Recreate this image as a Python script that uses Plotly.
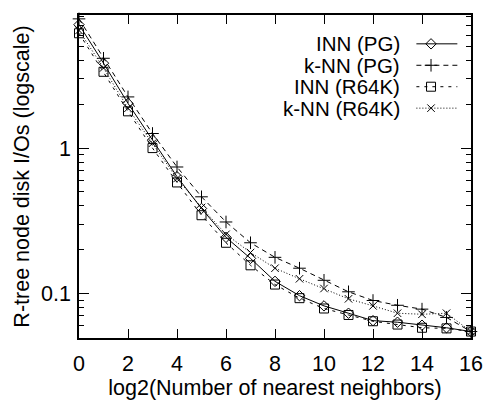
import plotly.graph_objects as go
import math

x_vals = list(range(0, 17))

inn_pg = [7.07, 3.84, 2.03, 1.135, 0.636, 0.384, 0.243, 0.174, 0.121, 0.0964, 0.082, 0.073, 0.0649, 0.0633, 0.0604, 0.058, 0.0546]
knn_pg = [7.75, 4.15, 2.25, 1.26, 0.741, 0.462, 0.31, 0.223, 0.177, 0.149, 0.123, 0.1025, 0.0893, 0.0828, 0.0779, 0.0683, 0.0546]
inn_r64k = [6.17, 3.35, 1.79, 1.0, 0.58, 0.345, 0.223, 0.156, 0.115, 0.0927, 0.0787, 0.071, 0.0643, 0.061, 0.058, 0.0574, 0.0546]
knn_r64k = [6.45, 3.56, 1.88, 1.08, 0.617, 0.39, 0.255, 0.191, 0.149, 0.126, 0.108, 0.0917, 0.082, 0.073, 0.0718, 0.073, 0.0546]

names = ["INN (PG)", "k-NN (PG)", "INN (R64K)", "k-NN (R64K)"]
series = [inn_pg, knn_pg, inn_r64k, knn_r64k]
symbols = ["diamond-open", "cross-thin-open", "square-open", "x-thin-open"]
msizes = [8, 9, 9, 7.5]
dashes = ["solid", "5px,4px", "3px,5px", "1px,2px"]

x_ticks = list(range(0, 17, 2))
y_major = [0.1, 1]
y_major_text = ["0.1", "1"]
y_minor = [0.05, 0.06, 0.07, 0.08, 0.09, 0.2, 0.3, 0.4, 0.5, 0.6, 0.7, 0.8, 0.9, 2, 3, 4, 5, 6, 7, 8]

FONT = "Liberation Sans, Arial, sans-serif"
W, H = 495, 407
ML, MR, MT, MB = 79, 14, 15, 56

fig = go.Figure()
for name, ys, sym, ms, dash in zip(names, series, symbols, msizes, dashes):
    fig.add_trace(go.Scatter(
        x=x_vals, y=ys, mode="lines+markers", name=name,
        line=dict(color="black", width=1, dash=dash),
        marker=dict(symbol=sym, size=ms, color="black", line=dict(color="black", width=1)),
        cliponaxis=False, showlegend=False))

# custom legend (text right-aligned, sample on the right), in plot-area fractions
pw = W - ML - MR
ph = H - MT - MB
row_px = [45, 67.3, 89.6, 111.9]
text_right = (409 - ML) / pw
line_x0 = (425 - ML) / pw
line_x1 = (467 - ML) / pw
mark_x = (440 - ML) / pw
annotations = []
for i, (name, sym, ms, dash) in enumerate(zip(names, symbols, msizes, dashes)):
    yf = (H - MB - row_px[i]) / ph
    fig.add_trace(go.Scatter(x=[line_x0, line_x1], y=[yf, yf], mode="lines",
                             line=dict(color="black", width=1, dash=dash),
                             xaxis="x2", yaxis="y2", showlegend=False, hoverinfo="skip"))
    fig.add_trace(go.Scatter(x=[mark_x], y=[yf], mode="markers",
                             marker=dict(symbol=sym, size=ms, color="black", line=dict(color="black", width=1)),
                             xaxis="x2", yaxis="y2", showlegend=False, hoverinfo="skip"))
    annotations.append(dict(x=text_right, y=yf, xref="x2", yref="y2", text=name,
                            showarrow=False, xanchor="right", yanchor="middle", borderpad=0,
                            font=dict(family=FONT, size=20.5, color="black")))

fig.update_layout(
    width=W, height=H,
    margin=dict(l=ML, r=MR, t=MT, b=MB),
    paper_bgcolor="white", plot_bgcolor="white",
    font=dict(family=FONT, size=21.5, color="black"),
    annotations=annotations,
    xaxis=dict(range=[0, 16], tickvals=x_ticks, ticks="inside", ticklen=9, tickwidth=1,
               tickcolor="black", showline=True, linecolor="black", linewidth=1.5,
               mirror="allticks", showgrid=False, zeroline=False,
               tickfont=dict(size=21.5), ticklabelstandoff=5,
               title=dict(text="log2(Number of nearest neighbors)", standoff=4, font=dict(size=21.5))),
    yaxis=dict(type="log", range=[math.log10(0.0493), math.log10(8.24)],
               tickvals=y_major, ticktext=y_major_text, ticks="inside", ticklen=10, tickwidth=1,
               tickcolor="black", showline=True, linecolor="black", linewidth=1.5,
               mirror="allticks", showgrid=False, zeroline=False,
               tickfont=dict(size=21.5), ticklabelstandoff=2,
               minor=dict(tickvals=y_minor, ticks="inside", ticklen=5, tickwidth=1, tickcolor="black", showgrid=False),
               title=dict(text="R-tree node disk I/Os (logscale)", standoff=6, font=dict(size=21.5))),
    xaxis2=dict(overlaying="x", range=[0, 1], visible=False, fixedrange=True),
    yaxis2=dict(overlaying="y", range=[0, 1], visible=False, fixedrange=True),
)

fig.write_html("out.html")
